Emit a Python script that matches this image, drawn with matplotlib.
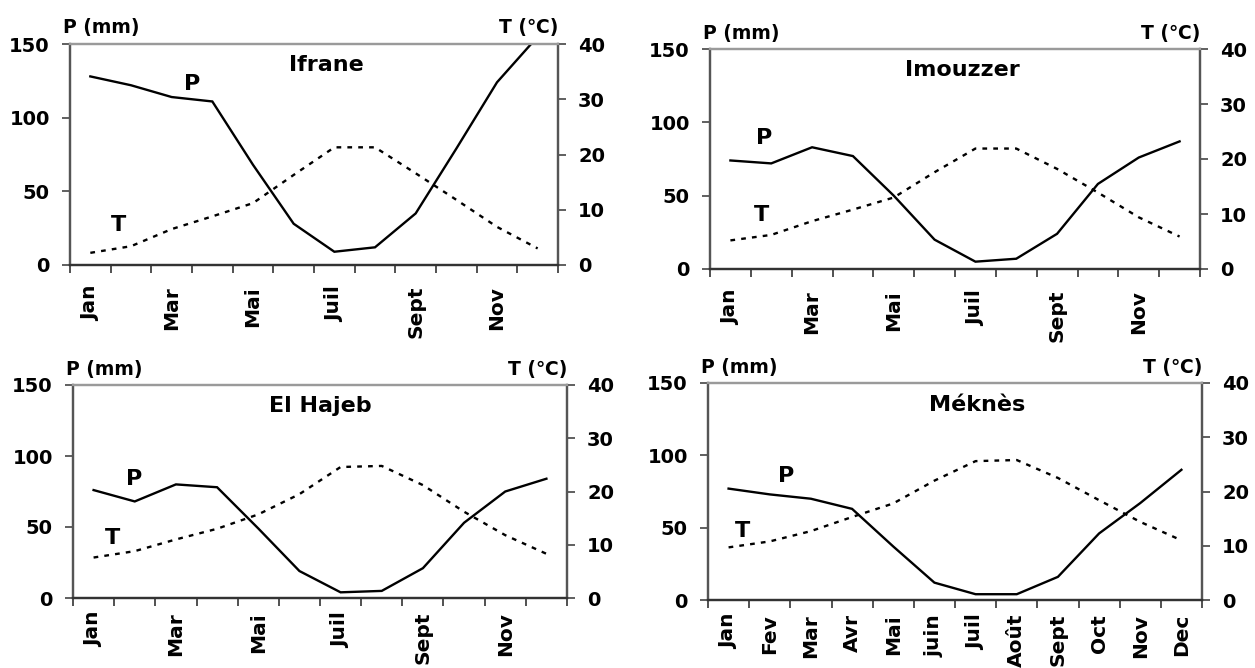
import matplotlib
matplotlib.use("Agg")
import matplotlib.pyplot as plt
import numpy as np

plt.rcParams["font.family"] = ["DejaVu Sans"]
plt.rcParams["font.weight"] = "bold"

months_full = ["Jan", "Fev", "Mar", "Avr", "Mai", "juin", "Juil", "Août",
               "Sept", "Oct", "Nov", "Dec"]
months_odd = ["Jan", "", "Mar", "", "Mai", "", "Juil", "", "Sept", "", "Nov", ""]

stations = ["Ifrane", "Imouzzer", "El Hajeb", "Méknès"]

# Monthly precipitation (mm)
p_ifrane = [128, 122, 114, 111, 68, 28, 9, 12, 35, 79, 124, 155]
p_imouzzer = [74, 72, 83, 77, 50, 20, 5, 7, 24, 58, 76, 87]
p_elhajeb = [76, 68, 80, 78, 49, 19, 4, 5, 21, 53, 75, 84]
p_meknes = [77, 73, 70, 63, 37, 12, 4, 4, 16, 46, 67, 90]

# Monthly mean temperature (°C)
t_ifrane = [2.2, 3.4, 6.5, 8.8, 11.2, 16.3, 21.3, 21.3, 16.6, 11.8, 6.9, 3.0]
t_imouzzer = [5.2, 6.2, 8.7, 10.8, 13.0, 17.6, 21.9, 21.9, 18.2, 13.9, 9.4, 5.9]
t_elhajeb = [7.6, 8.8, 11.0, 13.0, 15.7, 19.5, 24.6, 24.8, 21.2, 16.2, 11.8, 8.3]
t_meknes = [9.7, 10.8, 12.7, 15.3, 17.8, 22.0, 25.6, 25.8, 22.5, 18.4, 14.4, 11.0]

precip = [p_ifrane, p_imouzzer, p_elhajeb, p_meknes]
temp = [t_ifrane, t_imouzzer, t_elhajeb, t_meknes]
xlabels = [months_odd, months_odd, months_odd, months_full]

W, H = 1255, 668
fig = plt.figure(figsize=(W / 100, H / 100), dpi=100)

# axes boxes in pixels: left, right, top, bottom
boxes = [(70, 558, 44, 265), (710, 1200, 49, 269),
         (73, 567, 385, 598), (708, 1202, 383, 600)]
title_pos = [(0.525, 0.905), (0.515, 0.905), (0.50, 0.90), (0.545, 0.90)]
p_lab = [(2.5, 123), (0.82, 89), (0.98, 84), (1.39, 86)]
t_lab = [(0.7, 27), (0.77, 37), (0.47, 42), (0.33, 48)]
xlabel_pad = [15, 15, 10, 10]

x = np.arange(12)
for i in range(4):
    l, r, t, b = boxes[i]
    ax = fig.add_axes([l / W, (H - b) / H, (r - l) / W, (b - t) / H])
    ax2 = ax.twinx()

    ax.plot(x, precip[i], color="black", lw=1.7, solid_joinstyle="miter",
            clip_on=True, zorder=3)
    ax2.plot(x, temp[i], color="black", lw=1.7, linestyle=(0, (2, 2.6)),
             zorder=3)

    ax.set_xlim(-0.5, 11.5)
    ax.set_ylim(0, 150)
    ax2.set_ylim(0, 40)
    ax.set_yticks([0, 50, 100, 150])
    ax2.set_yticks([0, 10, 20, 30, 40])

    ax.set_xticks(x)
    ax.set_xticklabels(xlabels[i], rotation=90, fontsize=14.5,
                       fontweight="bold", va="top", ha="center")
    ax.set_xticks(np.arange(-0.5, 12, 1), minor=True)
    ax.tick_params(axis="x", which="major", length=0, pad=xlabel_pad[i])
    ax.tick_params(axis="x", which="minor", length=5.5, width=1.2,
                   color="#333333", direction="out")
    ax.tick_params(axis="y", length=5.5, width=1.2, color="#444444",
                   labelsize=14, pad=9)
    ax2.tick_params(axis="y", length=5.5, width=1.2, color="#444444",
                    labelsize=14, pad=9)
    for lab in ax.get_yticklabels() + ax2.get_yticklabels():
        lab.set_fontweight("bold")

    for a in (ax, ax2):
        a.spines["top"].set_color("#9a9a9a")
        a.spines["top"].set_linewidth(1.6)
        a.spines["left"].set_color("#555555")
        a.spines["left"].set_linewidth(1.6)
        a.spines["right"].set_color("#555555")
        a.spines["right"].set_linewidth(1.6)
        a.spines["bottom"].set_color("#333333")
        a.spines["bottom"].set_linewidth(1.6)

    ax.text(title_pos[i][0], title_pos[i][1], stations[i],
            transform=ax.transAxes, ha="center", va="center",
            fontsize=16, fontweight="bold")
    ax.text(p_lab[i][0], p_lab[i][1], "P", ha="center", va="center",
            fontsize=16, fontweight="bold")
    ax.text(t_lab[i][0], t_lab[i][1], "T", ha="center", va="center",
            fontsize=16, fontweight="bold")

    ax.text(-0.015, 1.0 + 16 / (b - t), "P (mm)", transform=ax.transAxes,
            ha="left", va="center", fontsize=13.5, fontweight="bold")
    ax.text(1.0, 1.0 + 16 / (b - t), "T (\u2103)", transform=ax.transAxes,
            ha="right", va="center", fontsize=13.5, fontweight="bold")

fig.savefig("out.png", dpi=100)
